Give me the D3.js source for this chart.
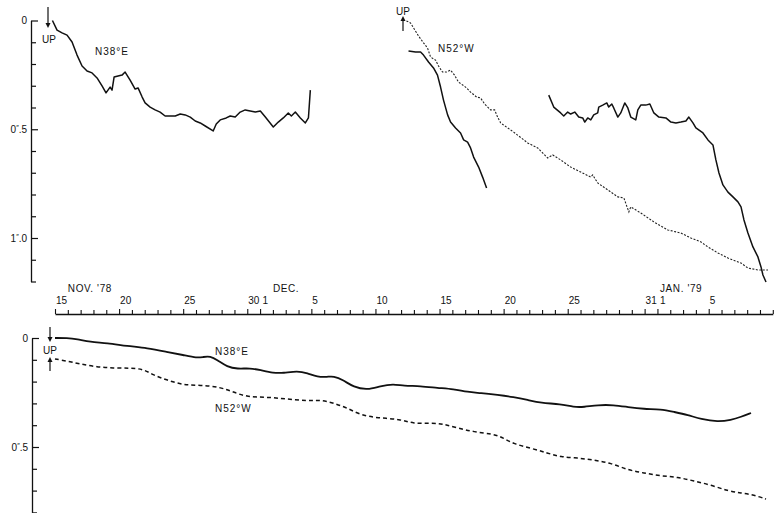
<!DOCTYPE html>
<html>
<head>
<meta charset="utf-8">
<script src="https://cdn.jsdelivr.net/npm/d3@7"></script>
<style>
  body { margin: 0; background: #fff; }
  text { font-family: "Liberation Sans", Arial, sans-serif; fill: #111; }
</style>
</head>
<body>
<div id="main"></div>
<script>
// days counted from Nov 1 1978 (Dec 1 = 31, Jan 1 = 62); values are tilt in arcsec
var topN38E_a = [[14.8,0.000],[15.16,0.044],[15.55,0.057],[15.94,0.067],[16.33,0.099],[16.72,0.159],[17.11,0.209],[17.5,0.232],[17.89,0.241],[18.28,0.264],[18.67,0.301],[18.98,0.333],[19.3,0.306],[19.45,0.320],[19.61,0.260],[19.92,0.255],[20.23,0.251],[20.47,0.237],[20.86,0.274],[21.25,0.315],[21.48,0.310],[21.8,0.352],[22.03,0.379],[22.42,0.398],[22.81,0.411],[23.2,0.421],[23.59,0.439],[23.98,0.439],[24.38,0.439],[24.77,0.430],[25.16,0.434],[25.55,0.444],[25.94,0.462],[26.33,0.471],[26.72,0.485],[27.34,0.508],[27.58,0.476],[27.89,0.457],[28.36,0.448],[28.67,0.439],[29.06,0.444],[29.45,0.421],[29.84,0.411],[30.23,0.416],[30.63,0.421],[31.02,0.416],[31.41,0.444],[32.03,0.490],[32.42,0.467],[32.81,0.448],[33.2,0.425],[33.44,0.439],[33.75,0.421],[34.14,0.448],[34.53,0.471],[34.77,0.448],[34.92,0.320]];
var topN38E_b = [[53.52,0.343],[53.91,0.398],[54.45,0.425],[54.69,0.439],[55.0,0.421],[55.23,0.430],[55.55,0.421],[55.86,0.444],[56.17,0.448],[56.33,0.467],[56.56,0.448],[56.8,0.457],[57.03,0.434],[57.34,0.425],[57.42,0.398],[57.73,0.389],[58.05,0.379],[58.2,0.398],[58.44,0.384],[58.59,0.402],[58.91,0.444],[59.14,0.425],[59.45,0.379],[59.69,0.402],[59.92,0.444],[60.31,0.457],[60.47,0.411],[60.7,0.389],[61.09,0.389],[61.41,0.384],[61.72,0.425],[62.11,0.444],[62.66,0.448],[63.05,0.467],[63.44,0.471],[63.83,0.467],[64.22,0.462],[64.45,0.444],[64.77,0.471],[65.0,0.494],[65.55,0.517],[65.94,0.549],[66.33,0.572],[66.56,0.641],[66.8,0.701],[67.11,0.756],[67.5,0.789],[67.89,0.811],[68.28,0.834],[68.52,0.857],[68.75,0.917],[69.06,0.977],[69.45,1.041],[69.84,1.087],[70.08,1.133],[70.23,1.170],[70.47,1.202]];
var topN52W_solid = [[42.58,0.140],[43.13,0.145],[43.52,0.145],[43.75,0.159],[44.14,0.191],[44.53,0.218],[44.84,0.251],[45.08,0.306],[45.31,0.366],[45.63,0.434],[45.86,0.467],[46.25,0.494],[46.64,0.517],[46.88,0.549],[47.19,0.559],[47.42,0.586],[47.66,0.628],[48.05,0.674],[48.36,0.720],[48.67,0.770]];
var topN52W_dash = [[42.42,0.002],[42.73,0.011],[42.97,0.034],[43.36,0.071],[43.75,0.103],[44.06,0.126],[44.3,0.168],[44.69,0.182],[44.92,0.209],[45.23,0.237],[45.55,0.237],[45.86,0.228],[46.17,0.251],[46.48,0.283],[47.03,0.306],[47.42,0.329],[47.89,0.352],[48.2,0.356],[48.52,0.384],[48.98,0.411],[49.3,0.411],[49.53,0.444],[49.77,0.471],[50.78,0.513],[51.88,0.563],[52.66,0.586],[53.44,0.632],[53.83,0.618],[54.45,0.641],[55.23,0.674],[56.02,0.697],[56.8,0.720],[56.95,0.710],[57.34,0.747],[58.13,0.779],[58.91,0.811],[59.38,0.816],[59.77,0.880],[59.92,0.857],[60.7,0.885],[61.72,0.926],[62.81,0.963],[63.83,0.977],[64.61,1.000],[65.39,1.018],[65.94,1.041],[66.72,1.069],[67.5,1.092],[68.52,1.115],[69.06,1.138],[69.84,1.147],[70.63,1.147]];
var botN38E = [[15.0,0.000],[15.94,0.000],[16.72,0.005],[17.73,0.018],[19.06,0.023],[20.63,0.037],[22.19,0.046],[23.75,0.064],[25.0,0.078],[26.09,0.092],[26.56,0.087],[27.11,0.083],[27.66,0.101],[28.44,0.133],[29.22,0.142],[30.23,0.138],[31.02,0.147],[32.03,0.161],[32.81,0.161],[33.91,0.151],[34.69,0.161],[35.47,0.179],[36.25,0.179],[36.72,0.174],[37.5,0.193],[38.28,0.225],[39.38,0.239],[40.39,0.220],[41.41,0.211],[42.19,0.220],[43.52,0.220],[44.84,0.229],[46.09,0.234],[47.19,0.248],[48.2,0.252],[49.53,0.261],[50.78,0.271],[51.88,0.284],[52.89,0.298],[54.45,0.303],[55.47,0.317],[56.25,0.317],[57.34,0.307],[58.59,0.307],[59.69,0.317],[60.94,0.326],[62.27,0.326],[63.28,0.339],[64.38,0.353],[65.39,0.372],[66.72,0.385],[67.73,0.376],[68.52,0.362],[69.3,0.344]];
var botN52W = [[15.0,0.096],[15.94,0.106],[16.95,0.119],[18.28,0.133],[19.53,0.138],[20.86,0.138],[21.88,0.142],[22.66,0.170],[23.75,0.193],[25.0,0.216],[26.33,0.216],[27.89,0.225],[28.91,0.248],[30.0,0.271],[31.56,0.271],[33.13,0.280],[34.69,0.289],[35.7,0.284],[36.72,0.298],[37.81,0.321],[38.83,0.353],[40.16,0.367],[41.95,0.372],[42.97,0.394],[44.3,0.390],[45.31,0.394],[46.41,0.413],[47.66,0.431],[49.22,0.440],[50.0,0.459],[50.78,0.486],[52.11,0.505],[53.44,0.528],[54.45,0.546],[55.78,0.550],[57.03,0.560],[58.36,0.573],[59.69,0.606],[60.94,0.619],[62.27,0.633],[63.59,0.638],[64.84,0.656],[66.17,0.674],[67.5,0.702],[68.52,0.711],[69.53,0.720],[70.47,0.739]];
var dayTicks = d3.range(15, 72);
var dayLabels = {15:"15",20:"20",25:"25",30:"30",31:"1",35:"5",40:"10",45:"15",50:"20",55:"25",61:"31",62:"1",66:"5"};
var months = [[16, "NOV. '78"], [32, "DEC."], [62.2, "JAN. '79"]];
var topTicks = d3.range(0, 13).map(function(i) { return i / 10; });
var botTicks = d3.range(0, 9).map(function(i) { return i / 10; });

var canvas = d3.select("#main").append("svg")
  .attr("width", 777)
  .attr("height", 513);

var x = d3.scaleLinear().domain([15, 71]).range([55, 772.8]);//shared date scale
var yTop = d3.scaleLinear().domain([0, 1.2]).range([20.5, 281.5]);
var yBot = d3.scaleLinear().domain([0, 0.8]).range([338, 512.4]);

function tiltLabel(sel) {
  sel.each(function(d) {
    var t = d3.select(this).text(null);
    var v = Math.round(d * 10);
    if (v === 0) { t.text("0"); return; }
    if (v !== 5 && v !== 10) return;
    var s = v === 5 ? ["0", "5"] : ["1", "0"];
    t.append("tspan").text(s[0]);
    t.append("tspan").attr("font-size", 7).attr("dy", -3).text("\u2033");
    t.append("tspan").attr("dy", 3).text("." + s[1]);
  });
}

function drawYAxis(scale, ticks, left) {
  var g = canvas.append("g")
    .attr("transform", "translate(" + left + ",0)")
    .call(d3.axisLeft(scale).tickValues(ticks).tickSizeInner(-5).tickSizeOuter(0).tickPadding(4));
  g.select(".domain").attr("stroke", "#111").attr("stroke-width", 1.3);
  g.selectAll(".tick line").attr("stroke", "#111").attr("stroke-width", 1.2)
    .attr("x2", function(d) { var v = Math.round(d * 10); return (v === 0 || v === 5 || v === 10) ? 7 : 5; });
  g.selectAll(".tick text").attr("font-size", 10).attr("fill", "#111").call(tiltLabel);
  return g;
}//vertical tilt axes

drawYAxis(yTop, topTicks, 31);
drawYAxis(yBot, botTicks, 32);

var dateAxis = canvas.append("g")
  .attr("transform", "translate(0,314)")
  .call(d3.axisTop(x).tickValues(dayTicks).tickSizeOuter(0).tickSizeInner(4).tickPadding(6)
    .tickFormat(function(d) { return dayLabels[d] || ""; }));
dateAxis.select(".domain").attr("stroke", "#111").attr("stroke-width", 1.3);
dateAxis.selectAll(".tick line").attr("stroke", "#111").attr("stroke-width", 1.1)
  .attr("y2", function(d) { return dayLabels[d] ? -5 : -4; });
dateAxis.selectAll(".tick text").attr("font-size", 10).attr("fill", "#111")
  .attr("text-anchor", "start").attr("x", function(d) { return dayLabels[d] === "1" ? 2 : 0.5; });//day axis between panels

canvas.selectAll(".month").data(months).enter().append("text")
  .attr("class", "month")
  .attr("x", function(d) { return x(d[0]); })
  .attr("y", 292)
  .attr("font-size", 10)
  .attr("letter-spacing", 0.6)
  .text(function(d) { return d[1]; });//month names

var lineTop = d3.line().x(function(d) { return x(d[0]); }).y(function(d) { return yTop(d[1]); });
var lineBot = d3.line().curve(d3.curveBasis).x(function(d) { return x(d[0]); }).y(function(d) { return yBot(d[1]); });

[topN38E_a, topN38E_b, topN52W_solid].forEach(function(s) {
  canvas.append("path").datum(s).attr("d", lineTop)
    .attr("fill", "none").attr("stroke", "#111").attr("stroke-width", 1.5).attr("stroke-linejoin", "round");
});
canvas.append("path").datum(topN52W_dash).attr("d", lineTop)
  .attr("fill", "none").attr("stroke", "#222").attr("stroke-width", 1.1).attr("stroke-dasharray", "2,1.5");

canvas.append("path").datum(botN38E).attr("d", lineBot)
  .attr("fill", "none").attr("stroke", "#111").attr("stroke-width", 1.8);
canvas.append("path").datum(botN52W).attr("d", lineBot)
  .attr("fill", "none").attr("stroke", "#111").attr("stroke-width", 1.5).attr("stroke-dasharray", "4,3");

// labels and UP arrows
function label(px, py, txt) {
  canvas.append("text").attr("x", px).attr("y", py).attr("font-size", 10).attr("letter-spacing", 1).text(txt);
}
label(95, 55, "N38\u00b0E");
label(438, 52, "N52\u00b0W");
label(215, 355, "N38\u00b0E");
label(215, 412, "N52\u00b0W");

function arrow(ax, y1, y2) {
  var dir = y2 > y1 ? 1 : -1;
  canvas.append("line").attr("x1", ax).attr("x2", ax).attr("y1", y1).attr("y2", y2 - dir * 3)
    .attr("stroke", "#111").attr("stroke-width", 1.2);
  canvas.append("path")
    .attr("d", "M" + (ax - 2.5) + "," + (y2 - dir * 5) + "L" + ax + "," + y2 + "L" + (ax + 2.5) + "," + (y2 - dir * 5) + "Z")
    .attr("fill", "#111");
}
function upText(ux, uy) {
  canvas.append("text").attr("x", ux).attr("y", uy).attr("font-size", 10).attr("text-anchor", "middle").text("UP");
}
arrow(48, 7, 28); upText(49, 43);
arrow(403, 31, 16); upText(403, 15);
arrow(50, 327, 342); upText(50, 354); arrow(50, 371, 357);
</script>
</body>
</html>
